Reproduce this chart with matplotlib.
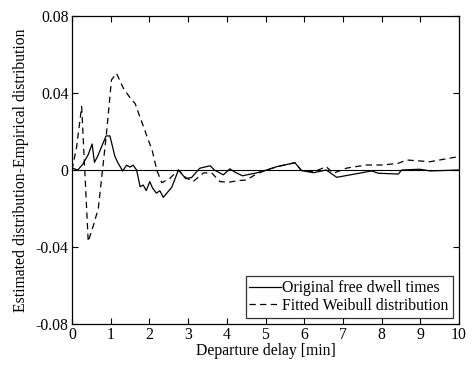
import matplotlib
matplotlib.use("Agg")
import matplotlib.pyplot as plt

# Original free dwell times (solid)
x_orig = [0.0, 0.15, 0.28, 0.42, 0.52, 0.58, 0.66, 0.88, 0.98, 1.11, 1.19, 1.31, 1.41, 1.50, 1.58, 1.67, 1.76,
          1.84, 1.92, 2.01, 2.08, 2.18, 2.27, 2.36, 2.58, 2.75, 2.94, 3.09, 3.30, 3.57, 3.68, 3.91, 4.08,
          4.22, 4.40, 4.77, 5.03, 5.29, 5.76, 5.93, 6.24, 6.57, 6.84, 7.74, 7.92, 8.43, 8.52, 8.99, 9.25, 10.0]
y_orig = [0.001, 0.0, 0.003, 0.008, 0.0135, 0.004, 0.007, 0.0177, 0.0177, 0.007, 0.0036, -0.0005, 0.0025, 0.0015,
          0.0025, 0.0, -0.0087, -0.0078, -0.0107, -0.006, -0.0093, -0.0120, -0.0108, -0.0142, -0.0089, 0.0, -0.0045,
          -0.0039, 0.0009, 0.0022, 0.0, -0.0025, 0.0006, -0.0012, -0.0030, -0.0015, 0.0, 0.0017, 0.0038, -0.0003,
          -0.0014, 0.0, -0.0038, -0.0005, -0.0017, -0.0021, 0.0, 0.0004, -0.0005, 0.0]

# Fitted Weibull distribution (dashed)
x_fit = [0.0, 0.12, 0.25, 0.42, 0.55, 0.68, 0.80, 0.90, 1.02, 1.15, 1.33, 1.54, 1.63, 1.82, 2.02, 2.06, 2.19,
         2.32, 2.53, 2.75, 2.94, 3.13, 3.40, 3.61, 3.82, 4.04, 4.30, 4.51, 4.77, 5.03, 5.29, 5.76, 5.93, 6.24,
         6.57, 6.75, 7.10, 7.61, 8.04, 8.43, 8.65, 9.25, 9.97]
y_fit = [0.0, 0.012, 0.0329, -0.0372, -0.029, -0.020, 0.002, 0.0208, 0.0468, 0.0502, 0.0424, 0.0364, 0.0346,
         0.024, 0.013, 0.0113, 0.0, -0.0066, -0.0043, 0.0, -0.0040, -0.0060, -0.0015, -0.0015, -0.0060, -0.0064,
         -0.0055, -0.0052, -0.0020, 0.0, 0.0017, 0.0038, -0.0003, -0.0010, 0.0017, -0.0017, 0.0010, 0.0026,
         0.0026, 0.0035, 0.0052, 0.0043, 0.0069]

x_ticks = list(range(0, 11))
y_ticks = [-0.08, -0.04, 0.0, 0.04, 0.08]
y_tick_labels = ["-0.08", "-0.04", "0", "0.04", "0.08"]

plt.rcParams['font.family'] = ['Liberation Serif', 'DejaVu Serif']
FS = 11.3

fig = plt.figure(figsize=(4.72, 3.68), dpi=100)
ax = fig.add_axes([0.1525, 0.1196, 0.82, 0.8369])

ax.axhline(0, color='black', lw=0.8)
ax.plot(x_orig, y_orig, color='black', lw=0.9, ls='-', label='Original free dwell times')
ax.plot(x_fit, y_fit, color='black', lw=0.9, ls=(0, (5, 3.5)), label='Fitted Weibull distribution')

ax.set_xlim(0, 10)
ax.set_ylim(-0.08, 0.08)
ax.set_xticks(x_ticks)
ax.set_yticks(y_ticks)
ax.set_yticklabels(y_tick_labels)
ax.tick_params(direction='in', top=True, right=True, length=4, width=0.8, labelsize=FS, pad=2.5)
for s in ax.spines.values():
    s.set_linewidth(0.9)

ax.set_xlabel('Departure delay [min]', fontsize=FS, labelpad=0)
ax.set_ylabel('Estimated distribution-Empirical distribution', fontsize=FS, labelpad=5)

leg = ax.legend(loc='lower right', fontsize=FS, frameon=True, fancybox=False, edgecolor='black',
                handlelength=2.0, handletextpad=0.1, borderpad=0.25, labelspacing=0.1,
                borderaxespad=0.4)
leg.get_frame().set_linewidth(0.9)

fig.savefig('out.png', dpi=100)
